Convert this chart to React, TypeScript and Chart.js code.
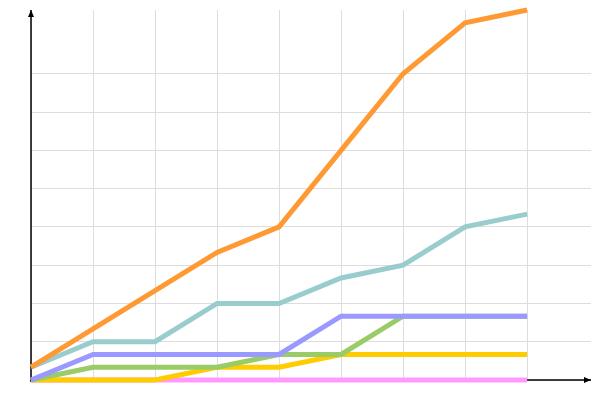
import React, { useEffect, useRef } from "react";
import { Chart, registerables } from "chart.js";

Chart.register(...registerables);

const steps = [0, 1, 2, 3, 4, 5, 6, 7, 8];
const orangeSeries = [1, 4, 7, 10, 12, 18, 24, 28, 29];
const tealSeries = [1, 3, 3, 6, 6, 8, 9, 12, 13];
const purpleSeries = [0, 2, 2, 2, 2, 5, 5, 5, 5];
const greenSeries = [0, 1, 1, 1, 2, 2, 5, 5, 5];
const yellowSeries = [0, 0, 0, 1, 1, 2, 2, 2, 2];
const pinkSeries = [0, 0, 0, 0, 0, 0, 0, 0, 0];
const yGridTicks = [0, 3, 6, 9, 12, 15, 18, 21, 24];

const seriesList = [
  { name: "A", values: orangeSeries, color: "#ff9933" },
  { name: "B", values: tealSeries, color: "#99cccc" },
  { name: "C", values: purpleSeries, color: "#9999ff" },
  { name: "D", values: greenSeries, color: "#99cc66" },
  { name: "E", values: yellowSeries, color: "#ffcc00" },
  { name: "F", values: pinkSeries, color: "#ff99ff" },
];

const arrowAxes = {
  id: "arrowAxes",
  beforeDatasetsDraw(chart: any) {
    const { ctx, chartArea } = chart;
    const { left, right, top, bottom } = chartArea;
    ctx.save();
    ctx.strokeStyle = "#000";
    ctx.fillStyle = "#000";
    ctx.lineWidth = 1.5;
    ctx.beginPath();
    ctx.moveTo(left, bottom + 2);
    ctx.lineTo(left, top);
    ctx.stroke();
    ctx.beginPath();
    ctx.moveTo(left, top);
    ctx.lineTo(left - 3, top + 7);
    ctx.lineTo(left + 3, top + 7);
    ctx.closePath();
    ctx.fill();
    ctx.beginPath();
    ctx.moveTo(left, bottom);
    ctx.lineTo(right, bottom);
    ctx.stroke();
    ctx.beginPath();
    ctx.moveTo(right, bottom);
    ctx.lineTo(right - 7, bottom - 3);
    ctx.lineTo(right - 7, bottom + 3);
    ctx.closePath();
    ctx.fill();
    ctx.restore();
  },
};

export default function App() {
  const ref = useRef<HTMLCanvasElement>(null);
  useEffect(() => {
    if (!ref.current) return;
    const chart = new Chart(ref.current, {
      type: "line",
      data: {
        datasets: seriesList.map((s) => ({
          label: s.name,
          data: s.values.map((v, i) => ({ x: steps[i], y: v })),
          borderColor: s.color,
          backgroundColor: s.color,
          borderWidth: 5,
          pointRadius: 0,
          tension: 0,
          fill: false,
          clip: false,
        })),
      },
      options: {
        animation: false,
        responsive: false,
        layout: { padding: { left: 31, top: 10, right: 9, bottom: 20 } },
        plugins: { legend: { display: false }, tooltip: { enabled: false } },
        scales: {
          x: {
            type: "linear",
            min: 0,
            max: 9.03,
            afterBuildTicks: (axis: any) => {
              axis.ticks = steps.map((v) => ({ value: v }));
            },
            ticks: { display: false },
            grid: { color: "#dddddd", drawTicks: false, lineWidth: 1 },
            border: { display: false },
          },
          y: {
            type: "linear",
            min: 0,
            max: 29,
            afterBuildTicks: (axis: any) => {
              axis.ticks = yGridTicks.map((v) => ({ value: v }));
            },
            ticks: { display: false },
            grid: { color: "#dddddd", drawTicks: false, lineWidth: 1 },
            border: { display: false },
          },
        },
      },
      plugins: [arrowAxes],
    });
    return () => chart.destroy();
  }, []);
  return (
    <div style={{ position: "fixed", left: 0, top: 0, width: 600, height: 400, background: "#fff" }}>
      <canvas ref={ref} width={600} height={400} />
    </div>
  );
}
